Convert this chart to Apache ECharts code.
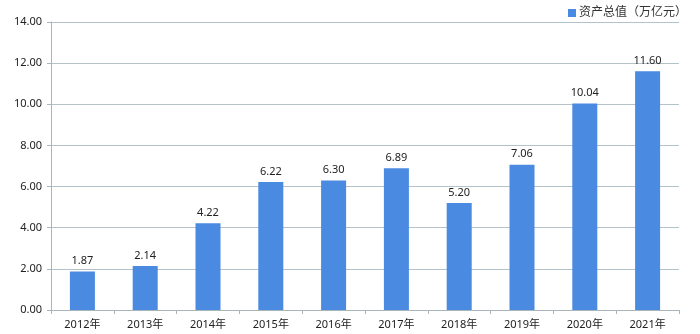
<!DOCTYPE html>
<html>
<head>
<meta charset="utf-8">
<style>
  html, body { margin: 0; padding: 0; background: #fff; }
  #chart { width: 700px; height: 334px; }
</style>
<script src="https://cdn.jsdelivr.net/npm/echarts@6/dist/echarts.min.js"></script>
</head>
<body>
<div id="chart"></div>
<script>
// Total assets by year (trillion yuan)
const years = ['2012年', '2013年', '2014年', '2015年', '2016年', '2017年', '2018年', '2019年', '2020年', '2021年'];
const totalAssets = [1.87, 2.14, 4.22, 6.22, 6.30, 6.89, 5.20, 7.06, 10.04, 11.60];
const seriesName = '资产总值（万亿元）';

const font = '"Noto Sans", "Noto Sans CJK SC", sans-serif';
const chart = echarts.init(document.getElementById('chart'));
chart.setOption({
  animation: false,
  textStyle: { fontFamily: font },
  legend: {
    right: 8, top: 2,
    itemWidth: 8, itemHeight: 8, itemGap: 4,
    icon: 'rect',
    textStyle: { fontSize: 12, color: '#333', fontFamily: font, padding: [0, 0, 0, -2] },
    data: [seriesName]
  },
  grid: { left: 51, right: 21, top: 22, bottom: 24, containLabel: false },
  xAxis: {
    type: 'category',
    data: years,
    axisLine: { lineStyle: { color: '#a9b4bb', width: 1 } },
    axisTick: { show: true, length: 4, lineStyle: { color: '#a9b4bb' } },
    axisLabel: { color: '#222', fontSize: 11, margin: 9, fontFamily: font }
  },
  yAxis: {
    type: 'value',
    min: 0, max: 14, interval: 2,
    axisLine: { show: true, lineStyle: { color: '#a9b4bb', width: 1 } },
    axisTick: { show: true, length: 4, lineStyle: { color: '#a9b4bb' } },
    splitLine: { lineStyle: { color: '#b4c2ca', width: 1 } },
    axisLabel: {
      color: '#222', fontSize: 11, margin: 9, fontFamily: font,
      formatter: v => v.toFixed(2)
    }
  },
  series: [{
    name: seriesName,
    type: 'bar',
    data: totalAssets,
    barWidth: 25,
    itemStyle: { color: '#4a8ae0' },
    label: {
      show: true, position: 'top', distance: 5,
      color: '#222', fontSize: 11, fontFamily: font,
      formatter: p => p.value.toFixed(2)
    }
  }]
});
</script>
</body>
</html>
